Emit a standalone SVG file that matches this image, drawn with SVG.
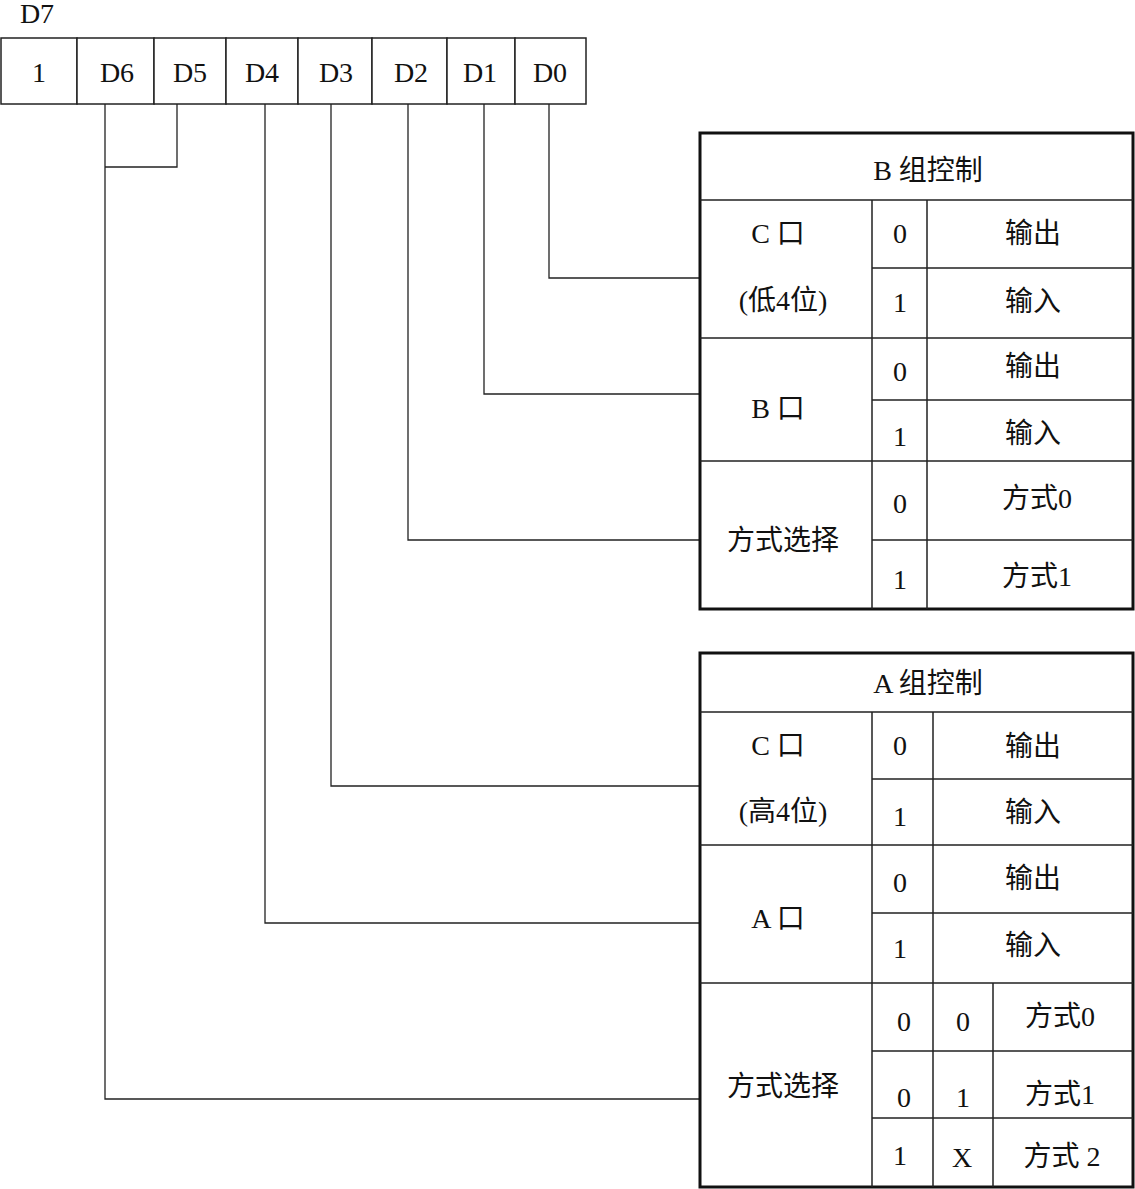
<svg xmlns="http://www.w3.org/2000/svg" width="1135" height="1189" viewBox="0 0 1135 1189">
<style>
text{font-family:"Liberation Serif","Noto Sans CJK SC",serif;font-size:28px;fill:#111;text-anchor:middle}
.cell{fill:#fff;stroke:#222;stroke-width:1.5}
.outer{fill:#fff;stroke:#111;stroke-width:3}
.inner{stroke:#222;stroke-width:1.5;fill:none}
.conn{stroke:#222;stroke-width:1.3;fill:none}
</style>
<rect width="1135" height="1189" fill="#fff"/>
<g id="register">
<text x="37" y="23">D7</text>
<rect class="cell" x="1" y="38" width="76" height="66"/>
<rect class="cell" x="77" y="38" width="77" height="66"/>
<rect class="cell" x="154" y="38" width="72" height="66"/>
<rect class="cell" x="226" y="38" width="72" height="66"/>
<rect class="cell" x="298" y="38" width="74" height="66"/>
<rect class="cell" x="372" y="38" width="75" height="66"/>
<rect class="cell" x="447" y="38" width="68" height="66"/>
<rect class="cell" x="515" y="38" width="71" height="66"/>
<text x="39" y="82">1</text>
<text x="117" y="82">D6</text>
<text x="190" y="82">D5</text>
<text x="262" y="82">D4</text>
<text x="336" y="82">D3</text>
<text x="411" y="82">D2</text>
<text x="480" y="82">D1</text>
<text x="550" y="82">D0</text>
</g>
<g id="connectors">
<polyline class="conn" points="177,104 177,167 105,167"/>
<polyline class="conn" points="105,104 105,1099 700,1099"/>
<polyline class="conn" points="265,104 265,923 700,923"/>
<polyline class="conn" points="331,104 331,786 700,786"/>
<polyline class="conn" points="408,104 408,540 700,540"/>
<polyline class="conn" points="484,104 484,394 700,394"/>
<polyline class="conn" points="549,104 549,278 700,278"/>
</g>
<g id="groupB">
<rect class="outer" x="700" y="133" width="433" height="476"/>
<path class="inner" d="M700,200H1133 M872,200V609 M927,200V609 M872,268H1133 M700,338H1133 M872,400H1133 M700,461H1133 M872,540H1133"/>
<text x="928" y="180">B 组控制</text>
<text x="778" y="243">C 口</text>
<text x="783" y="310">(低4位)</text>
<text x="900" y="243">0</text>
<text x="900" y="312">1</text>
<text x="1033" y="243">输出</text>
<text x="1033" y="311">输入</text>
<text x="778" y="418">B 口</text>
<text x="900" y="381">0</text>
<text x="900" y="446">1</text>
<text x="1033" y="376">输出</text>
<text x="1033" y="443">输入</text>
<text x="783" y="550">方式选择</text>
<text x="900" y="513">0</text>
<text x="900" y="589">1</text>
<text x="1037" y="508">方式0</text>
<text x="1037" y="586">方式1</text>
</g>
<g id="groupA">
<rect class="outer" x="700" y="653" width="433" height="534"/>
<path class="inner" d="M700,712H1133 M872,712V1187 M933,712V1187 M872,779H1133 M700,845H1133 M872,913H1133 M700,983H1133 M872,1051H1133 M872,1118H1133 M993,983V1187"/>
<text x="928" y="693">A 组控制</text>
<text x="778" y="755">C 口</text>
<text x="783" y="821">(高4位)</text>
<text x="900" y="755">0</text>
<text x="900" y="826">1</text>
<text x="1033" y="756">输出</text>
<text x="1033" y="822">输入</text>
<text x="778" y="928">A 口</text>
<text x="900" y="892">0</text>
<text x="900" y="958">1</text>
<text x="1033" y="888">输出</text>
<text x="1033" y="955">输入</text>
<text x="783" y="1096">方式选择</text>
<text x="904" y="1031">0</text>
<text x="963" y="1031">0</text>
<text x="1060" y="1026">方式0</text>
<text x="904" y="1107">0</text>
<text x="963" y="1107">1</text>
<text x="1060" y="1104">方式1</text>
<text x="900" y="1165">1</text>
<text x="962" y="1167">X</text>
<text x="1062" y="1166">方式 2</text>
</g>
</svg>
